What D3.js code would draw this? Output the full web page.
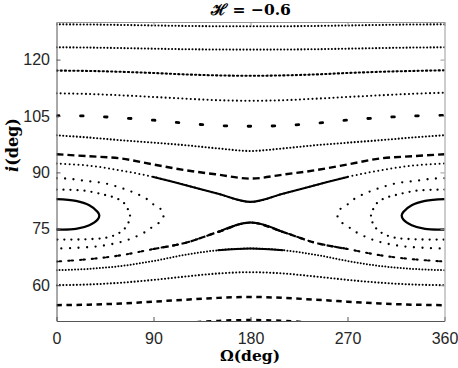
<!DOCTYPE html>
<html>
<head>
<meta charset="utf-8">
<script src="https://cdn.jsdelivr.net/npm/d3@7"></script>
<style>
  body { margin: 0; background: #fff; }
  svg { display: block; }
</style>
</head>
<body>
<svg id="chart" width="458" height="368"></svg>
<script>
// values (Omega in deg, i in deg)
var omega = [0, 30, 60, 90, 120, 150, 180, 210, 240, 270, 300, 330, 360]

// open trajectories, top to bottom, i at each omega
var iC1 = [129.38, 129.33, 129.22, 129.08, 128.95, 128.87, 128.85, 128.87, 128.95, 129.08, 129.22, 129.33, 129.38]
var iC2 = [123.27, 123.2, 123.06, 122.9, 122.76, 122.68, 122.66, 122.68, 122.76, 122.9, 123.06, 123.2, 123.27]
var iC3 = [117.08, 116.98, 116.75, 116.44, 116.05, 115.8, 115.69, 115.8, 116.05, 116.44, 116.75, 116.98, 117.15]
var iC4 = [111.04, 110.85, 110.5, 110.06, 109.6, 109.2, 109.05, 109.2, 109.6, 110.06, 110.5, 110.9, 111.2]
var iC5 = [105.06, 104.98, 104.5, 103.9, 103.05, 102.45, 102.27, 102.45, 103.05, 103.9, 104.55, 105.0, 105.2]
var iC6 = [99.88, 99.27, 98.55, 97.9, 97.22, 96.37, 95.7, 96.37, 97.22, 97.9, 98.55, 99.27, 99.88]
var iC7 = [94.83, 94.3, 93.7, 92.1, 90.57, 89.4, 88.35, 89.4, 90.57, 92.1, 93.7, 94.3, 94.83]
var iC8 = [92.36, 91.8, 90.5, 88.8, 86.6, 84.3, 82.15, 84.3, 86.6, 88.8, 90.5, 91.8, 92.36]
var iC9 = [66.3, 66.92, 67.98, 69.63, 71.3, 74.17, 76.67, 74.17, 71.3, 69.63, 67.98, 66.92, 66.3]
var iC10 = [63.99, 64.34, 65.11, 66.44, 68.11, 69.31, 69.76, 69.31, 68.11, 66.44, 65.11, 64.34, 63.99]
var iC11 = [60.0, 60.19, 60.67, 61.41, 62.32, 63.12, 63.46, 63.12, 62.32, 61.41, 60.67, 60.19, 60.0]
var iC12 = [54.69, 54.82, 55.14, 55.62, 56.15, 56.63, 56.87, 56.63, 56.15, 55.62, 55.14, 54.82, 54.69]
var iC13 = [48.2, 48.35, 48.75, 49.3, 49.95, 50.5, 50.72, 50.5, 49.95, 49.3, 48.75, 48.35, 48.2]

// librations around Omega = 0 (and 360), as [Omega, i]
var islandInner = [[0, 82.87], [18, 82.41], [30.4, 81.27], [38.2, 79.49], [39.7, 78.61], [38.2, 77.47],
  [30.4, 75.96], [18, 74.97], [0, 74.81]]
var islandMid = [[0, 85.44], [26.3, 85.12], [45.9, 83.93], [56.1, 83.05], [63.6, 81.54], [67.3, 79.41],
  [68.2, 78.61], [67.3, 77.02], [63.6, 75.16], [56.1, 73.56], [45.9, 72.63], [26.3, 72.2], [0, 72.15]]
var islandOuter = [[0, 88.45], [8.7, 88.37], [18, 88.1], [27.3, 87.73], [36.6, 87.46], [45.9, 87.04],
  [55.2, 86.32], [64.5, 85.44], [73.8, 84.38], [83.1, 83.05], [88.7, 81.72], [96.2, 80.39], [99.4, 78.61],
  [96.2, 76.88], [88.7, 75.42], [83.1, 74.28], [73.8, 72.95], [64.5, 71.89], [55.2, 71.17], [45.9, 70.65],
  [36.6, 70.29], [18, 69.92], [0, 69.76]]

var xTicks = [0, 90, 180, 270, 360]
var yTicks = [60, 75, 90, 105, 120]
var titleText = '\u210B = \u22120.6'

var svg = d3.select('#chart')
var padL = 56.5, padR = 444.5, padT = 22, padB = 321

var x = d3.scaleLinear().domain([0, 360]).range([padL, padR])
var y = d3.scaleLinear().domain([50.48, 130]).range([padB, padT])

svg.append('clipPath').attr('id', 'plot')
  .append('rect')
  .attr('x', padL).attr('y', padT)
  .attr('width', padR - padL).attr('height', padB - padT)

var line = d3.line()
  .x(function (d) { return x(d[0]) })
  .y(function (d) { return y(d[1]) })
  .curve(d3.curveCatmullRom.alpha(0.5))

function pts (vals) {
  return omega.map(function (o, k) { return [o, vals[k]] })
}
function part (vals, lo, hi) {
  return pts(vals).filter(function (d) { return d[0] >= lo && d[0] <= hi })
}
function mirror (loop) {
  return loop.map(function (d) { return [360 - d[0], d[1]] })
}

var g = svg.append('g').attr('clip-path', 'url(#plot)')

function draw (data, width, dash, cap) {
  g.append('path')
    .attr('d', line(data))
    .attr('fill', 'none')
    .attr('stroke', 'black')
    .attr('stroke-width', width)
    .attr('stroke-linecap', cap || 'round')
    .attr('stroke-dasharray', dash)
}

// open curves
draw(pts(iC1), 2.1, '0,3.4')
draw(pts(iC2), 2.1, '0,3.4')
draw(pts(iC3), 2.1, '1.2,3')
draw(pts(iC4), 2.1, '0,4.2')
draw(pts(iC5), 2.8, '2.6,21.4')
draw(pts(iC6), 2.1, '0,3.4')
draw(pts(iC7), 2.4, '7,4', 'butt')
draw(pts(iC8), 2.0, '0,4.4')
draw(part(iC8, 90, 270), 2.1, null)
draw(pts(iC9), 2.1, '1.4,2,1.4,7')
draw(part(iC9, 90, 270), 2.2, '6,3.5', 'butt')
draw(part(iC9, 150, 210), 2.2, null)
draw(pts(iC10), 2.0, '0,3.1')
draw(part(iC10, 150, 210), 2.1, null)
draw(pts(iC11), 2.1, '0,3.4')
draw(pts(iC12), 2.5, '5.5,4.5', 'butt')
draw(pts(iC13), 2.6, '5,5', 'butt')

// islands, left and right copies
;[[islandInner, 2.3, null], [islandMid, 2.3, '0,7'], [islandOuter, 2.3, '0,8.5']].forEach(function (s) {
  draw(s[0], s[1], s[2])
  draw(mirror(s[0]), s[1], s[2])
})

// axes box with inward ticks
var tickFont = '"Liberation Sans", Arial, sans-serif'

var xAxis = svg.append('g')
  .attr('transform', 'translate(0,' + padB + ')')
  .call(d3.axisBottom(x).tickValues(xTicks).tickSize(-4).tickPadding(12).tickSizeOuter(0))
var yAxis = svg.append('g')
  .attr('transform', 'translate(' + padL + ',0)')
  .call(d3.axisLeft(y).tickValues(yTicks).tickSize(-4).tickPadding(6.5).tickSizeOuter(0))
var xTop = svg.append('g')
  .attr('transform', 'translate(0,' + padT + ')')
  .call(d3.axisTop(x).tickValues(xTicks).tickSize(-4).tickFormat('').tickSizeOuter(0))
var yRight = svg.append('g')
  .attr('transform', 'translate(' + padR + ',0)')
  .call(d3.axisRight(y).tickValues(yTicks).tickSize(-4).tickFormat('').tickSizeOuter(0))

;[xAxis, yAxis].forEach(function (a) {
  a.selectAll('path, line').attr('stroke', '#555')
  a.selectAll('text')
    .attr('fill', '#262626')
    .style('font-family', tickFont)
    .style('font-size', '16px')
})
;[xTop, yRight].forEach(function (a) {
  a.selectAll('path, line').attr('stroke', '#9a9a9a')
})

// title and axis labels
var serif = '"DejaVu Serif", "Liberation Serif", serif'

svg.append('text')
  .attr('x', 251).attr('y', 15)
  .attr('text-anchor', 'middle')
  .style('font-family', serif)
  .style('font-weight', 'bold')
  .style('font-size', '15.5px')
  .text(titleText)

svg.append('text')
  .attr('x', 250).attr('y', 361)
  .attr('text-anchor', 'middle')
  .style('font-family', serif)
  .style('font-weight', 'bold')
  .style('font-size', '15.5px')
  .text('\u03A9(deg)')

var ylab = svg.append('text')
  .attr('transform', 'translate(18,145) rotate(-90)')
  .attr('text-anchor', 'middle')
  .style('font-family', serif)
  .style('font-weight', 'bold')
  .style('font-size', '16px')
ylab.append('tspan').style('font-style', 'italic').text('i')
ylab.append('tspan').text('(deg)')
</script>
</body>
</html>
